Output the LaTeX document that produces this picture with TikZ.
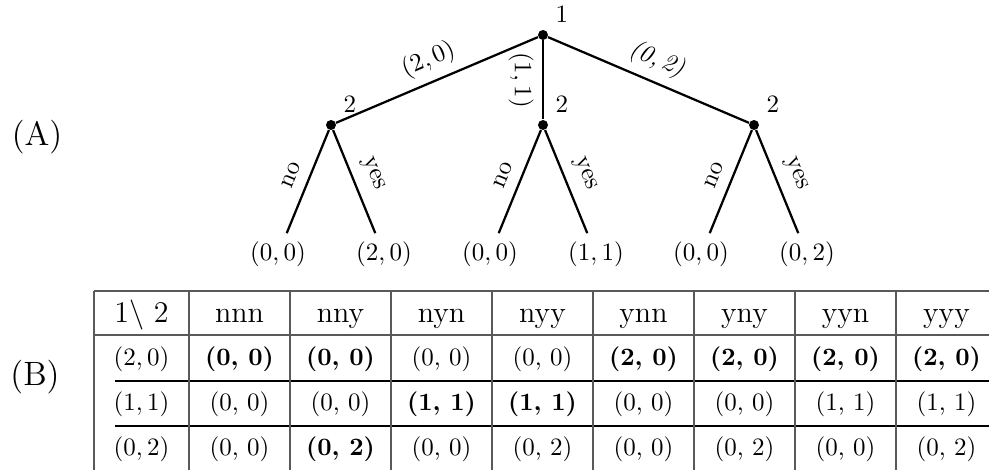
\documentclass[tikz,border=0pt]{standalone}
\usepackage{tikz}

\begin{document}
\begin{tikzpicture}[x=0.4pt,y=0.4pt,
  dot/.style={circle,fill,inner sep=0pt,minimum size=4pt},
  branch/.style={line width=0.9pt},
  grid/.style={line width=0.6pt,black!65},
  rowline/.style={line width=0.6pt,black},
  head/.style={anchor=base,font=\large},
  cell/.style={anchor=base},
  part/.style={font=\fontsize{13.5}{16}\selectfont}]
  \useasboundingbox (0,0) rectangle (989,470);
  % game tree
  \node[dot,label={45:$1$}] (root) at (543,435) {};
  \node[dot,label={45:$2$}] (c1) at (331,345) {};
  \node[dot,label={45:$2$}] (c2) at (543,345) {};
  \node[dot,label={45:$2$}] (c3) at (754,345) {};
  \node (l1) at (278,215.5) {$(0,0)$};
  \node (l2) at (384,215.5) {$(2,0)$};
  \node (l3) at (490,215.5) {$(0,0)$};
  \node (l4) at (596,215.5) {$(1,1)$};
  \node (l5) at (701,215.5) {$(0,0)$};
  \node (l6) at (807,215.5) {$(0,2)$};
  \draw[branch] (c1) -- node[sloped,above] {$(2,0)$} (root);
  \draw[branch] (root) -- node[midway,rotate=-90,anchor=north] {$(1,1)$} (c2);
  \draw[branch] (root) -- node[sloped,above] {\textit{(0,\,2)}} (c3);
  \draw[branch] (c1) -- node[sloped,above=1pt] {no} (l1);
  \draw[branch] (c1) -- node[sloped,above=1pt] {yes} (l2);
  \draw[branch] (c2) -- node[sloped,above=1pt] {no} (l3);
  \draw[branch] (c2) -- node[sloped,above=1pt] {yes} (l4);
  \draw[branch] (c3) -- node[sloped,above=1pt] {no} (l5);
  \draw[branch] (c3) -- node[sloped,above=1pt] {yes} (l6);
  \node[part] (pa) at (37,333) {(A)};
  % strategy table
  \node[part] (pb) at (35,93) {(B)};
  \draw[grid] (94,179) -- (989,179);
  \draw[grid] (94,135) -- (989,135);
  \draw[rowline] (115,89) -- (989,89);
  \draw[rowline] (115,44) -- (989,44);
  \draw[grid] (94,0) -- (94,179);
  \foreach \x in {189,290,...,896}
    \draw[grid] (\x,0) -- (\x,179);
  \node[head] (h0) at (141.5,147) {$1\backslash\ 2$};
  \foreach \s [count=\i] in {nnn,nny,nyn,nyy,ynn,yny,yyn,yyy}
    \node[head] (h\i) at (138.5+101*\i,147) {\s};
  \node[cell] (r1) at (141.5,104) {$(2,0)$};
  \node[cell] (r2) at (141.5,59) {$(1,1)$};
  \node[cell] (r3) at (141.5,14) {$(0,2)$};
  \foreach \s [count=\i] in {{\textbf{(0, 0)}},{\textbf{(0, 0)}},{(0, 0)},{(0, 0)},
      {\textbf{(2, 0)}},{\textbf{(2, 0)}},{\textbf{(2, 0)}},{\textbf{(2, 0)}}}
    \node[cell] (a\i) at (138.5+101*\i,104) {\s};
  \foreach \s [count=\i] in {{(0, 0)},{(0, 0)},{\textbf{(1, 1)}},{\textbf{(1, 1)}},
      {(0, 0)},{(0, 0)},{(1, 1)},{(1, 1)}}
    \node[cell] (b\i) at (138.5+101*\i,59) {\s};
  \foreach \s [count=\i] in {{(0, 0)},{\textbf{(0, 2)}},{(0, 0)},{(0, 2)},
      {(0, 0)},{(0, 2)},{(0, 0)},{(0, 2)}}
    \node[cell] (d\i) at (138.5+101*\i,14) {\s};
\end{tikzpicture}
\end{document}
